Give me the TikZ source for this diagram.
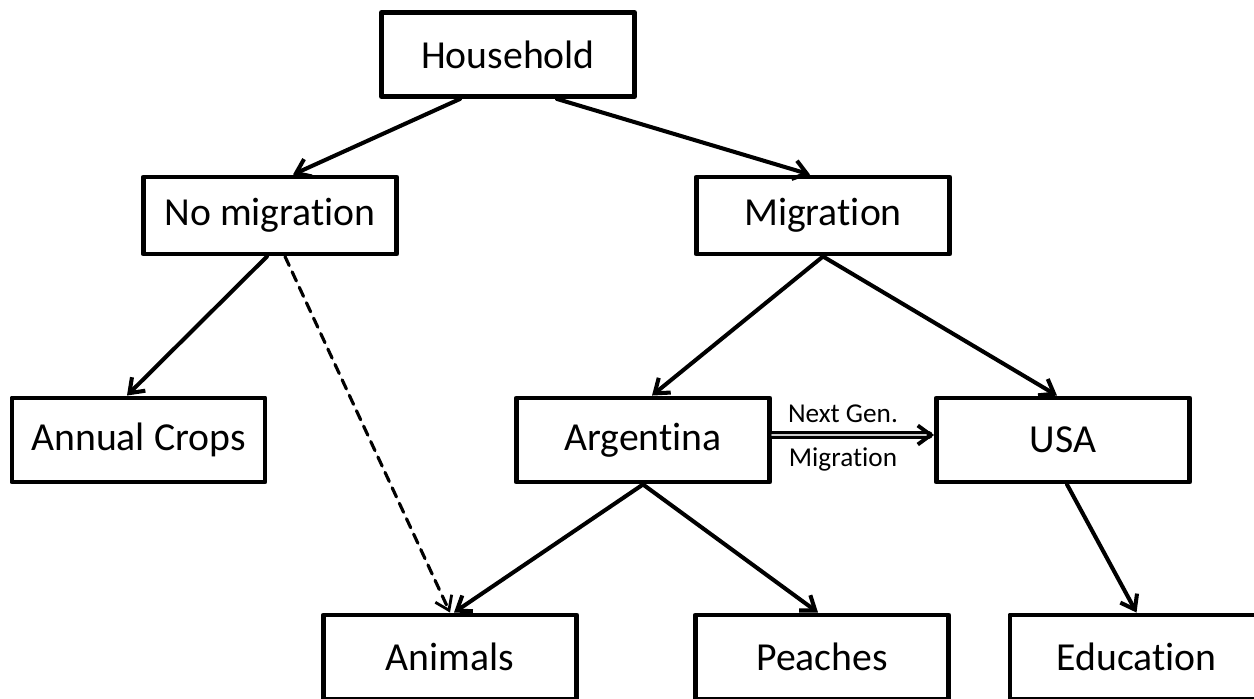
\documentclass[tikz,border=0pt]{standalone}
\usepackage{fontspec}
\setmainfont{Carlito}[Ligatures=CommonOff]
\usepackage{tikz}
\usetikzlibrary{positioning, arrows.meta}

\begin{document}
\begin{tikzpicture}[line cap=round, line join=round,
    box/.style={draw, line width=2.8pt, minimum width=5.06cm, minimum height=1.68cm,
                inner sep=0pt, font=\fontsize{22.6}{26}\selectfont},
    link/.style={line width=2.3pt, -{Straight Barb[length=2.6mm, width=3.8mm, line width=2.3pt]}},
    maybe/.style={line width=1.8pt, dash pattern=on 2mm off 1.4mm, -{Straight Barb[length=2.6mm, width=3.6mm, line width=1.6pt]}}]
            % page
             \useasboundingbox (0,0) rectangle (25.08,13.96);
             \clip (0,0) rectangle (25.08,13.96);
             % top
             \node[box] (hh) at (10.16,12.87) {Household};
             % second row
             \node[box, minimum height=1.54cm] (nomig) at (5.40,9.65) {No migration};
             \node[box, minimum height=1.54cm] (mig) at (16.46,9.65) {Migration};
             % third row
             \node[box] (crops) at (2.77,5.16) {Annual Crops};
             \node[box] (arg) at (12.86,5.16) {Argentina};
             \node[box] (usa) at (21.26,5.16) {USA};
             % bottom row (cut by the page)
             \node[box] (anim) at (9.00,0.82) {Animals};
             \node[box] (peach) at (16.44,0.82) {Peaches};
             \node[box] (edu) at (22.73,0.82) {Education};
             % household split
             \draw[link] ([xshift=-0.96cm]hh.south) -- ([xshift=0.46cm]nomig.north);
             \draw[link] ([xshift=0.98cm]hh.south) -- ([xshift=-0.26cm]mig.north);
             % no migration
             \draw[link] ([xshift=-0.06cm]nomig.south) -- ([xshift=-0.23cm]crops.north);
             \draw[maybe] ([xshift=0.30cm]nomig.south) -- (anim.north);
             % migration
             \draw[link] (mig.south) -- ([xshift=0.18cm]arg.north);
             \draw[link] (mig.south) -- ([xshift=-0.12cm]usa.north);
             % argentina and usa
             \draw[link] (arg.south) -- ([xshift=0.08cm]anim.north);
             \draw[link] (arg.south) -- ([xshift=-0.08cm]peach.north);
             \draw[link] ([xshift=0.08cm]usa.south) -- (edu.north);
             % next generation
             \draw[line width=1.7pt, double=gray!40, double distance=0.9pt,
                   -{Straight Barb[length=2.6mm, width=3.8mm, line width=2.2pt]}]
                  ([yshift=0.1cm]arg.east) -- ([yshift=0.1cm]usa.west)
                  node[midway, above=3pt, xshift=-0.2cm, font=\fontsize{15.5}{18}\selectfont] (ngtop) {Next Gen.}
                  node[midway, below=3pt, xshift=-0.2cm, font=\fontsize{15.5}{18}\selectfont] (ngbot) {Migration};
     \end{tikzpicture}
\end{document}
